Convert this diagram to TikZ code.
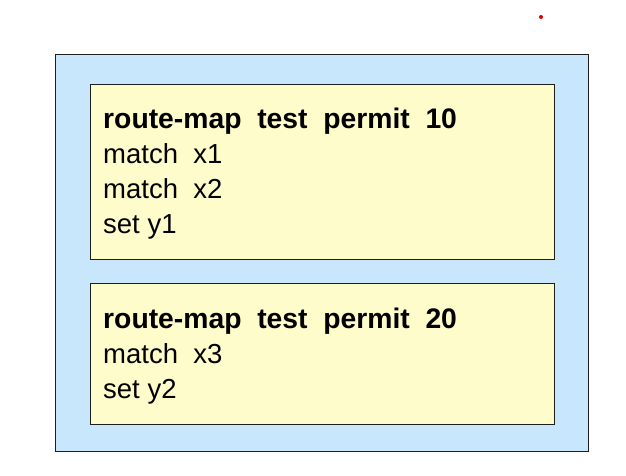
\documentclass[tikz,border=0pt]{standalone}
\usepackage{fontspec}
\setmainfont{Liberation Sans}
\definecolor{outerblue}{RGB}{200,230,252}
\definecolor{inneryellow}{RGB}{255,252,204}
\definecolor{edgegray}{RGB}{30,30,30}
\begin{document}
\begin{tikzpicture}[x=1pt,y=-1pt,
  outerbox/.style={draw=edgegray,fill=outerblue,line width=1.3pt,inner sep=0pt,anchor=north west},
  clausebox/.style={draw=edgegray,fill=inneryellow,line width=1.3pt,inner sep=0pt,anchor=north west},
  cmdline/.style={anchor=base west,inner sep=0pt,font=\fontsize{27.5}{32}\selectfont},
  headline/.style={cmdline,font=\fontsize{28.3}{32}\selectfont\bfseries}]
\useasboundingbox (0,0) rectangle (626,475);
\node[outerbox,minimum width=533pt,minimum height=396.5pt] (outer) at (55,54) {};
\node[clausebox,minimum width=464pt,minimum height=175.5pt] (c1) at (90,83.5) {};
\node[clausebox,minimum width=464pt,minimum height=141.5pt] (c2) at (90,282.5) {};
\node[headline] (h1) at (103,128) {route-map\ \ test\ \ permit\ \ 10};
\node[cmdline] (m1) at (103,163) {match\ \ x1};
\node[cmdline] (m2) at (103,198) {match\ \ x2};
\node[cmdline] (s1) at (103,233) {set y1};
\node[headline] (h2) at (103,328) {route-map\ \ test\ \ permit\ \ 20};
\node[cmdline] (m3) at (103,363) {match\ \ x3};
\node[cmdline] (s2) at (103,398) {set y2};
\fill[red!85!black] (541,17) circle (2pt);
\end{tikzpicture}
\end{document}
